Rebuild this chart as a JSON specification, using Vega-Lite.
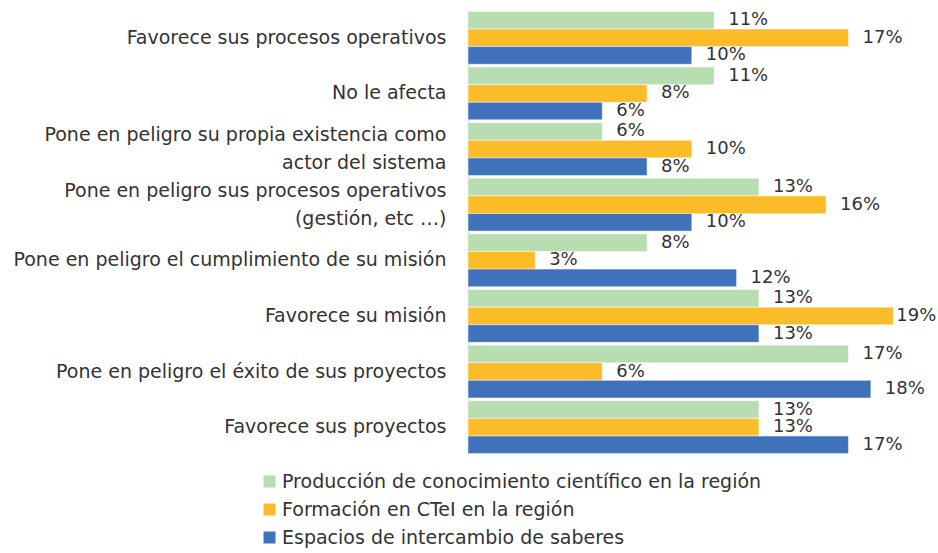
{
  "$schema": "https://vega.github.io/schema/vega-lite/v6.json",
  "autosize": "none",
  "width": 470,
  "height": 445,
  "padding": {"left": 468, "top": 10, "right": 0, "bottom": 98},
  "background": "white",
  "config": {"view": {"stroke": null}, "font": "DejaVu Sans"},
  "data": {"values": [
    {"cat": "Favorece sus procesos operativos", "series": "Producción de conocimiento científico en la región", "value": 0.11},
    {"cat": "Favorece sus procesos operativos", "series": "Formación en CTeI en la región", "value": 0.17},
    {"cat": "Favorece sus procesos operativos", "series": "Espacios de intercambio de saberes", "value": 0.10},
    {"cat": "No le afecta", "series": "Producción de conocimiento científico en la región", "value": 0.11},
    {"cat": "No le afecta", "series": "Formación en CTeI en la región", "value": 0.08},
    {"cat": "No le afecta", "series": "Espacios de intercambio de saberes", "value": 0.06},
    {"cat": "Pone en peligro su propia existencia como|actor del sistema", "series": "Producción de conocimiento científico en la región", "value": 0.06},
    {"cat": "Pone en peligro su propia existencia como|actor del sistema", "series": "Formación en CTeI en la región", "value": 0.10},
    {"cat": "Pone en peligro su propia existencia como|actor del sistema", "series": "Espacios de intercambio de saberes", "value": 0.08},
    {"cat": "Pone en peligro sus procesos operativos|(gestión, etc …)", "series": "Producción de conocimiento científico en la región", "value": 0.13},
    {"cat": "Pone en peligro sus procesos operativos|(gestión, etc …)", "series": "Formación en CTeI en la región", "value": 0.16},
    {"cat": "Pone en peligro sus procesos operativos|(gestión, etc …)", "series": "Espacios de intercambio de saberes", "value": 0.10},
    {"cat": "Pone en peligro el cumplimiento de su misión", "series": "Producción de conocimiento científico en la región", "value": 0.08},
    {"cat": "Pone en peligro el cumplimiento de su misión", "series": "Formación en CTeI en la región", "value": 0.03},
    {"cat": "Pone en peligro el cumplimiento de su misión", "series": "Espacios de intercambio de saberes", "value": 0.12},
    {"cat": "Favorece su misión", "series": "Producción de conocimiento científico en la región", "value": 0.13},
    {"cat": "Favorece su misión", "series": "Formación en CTeI en la región", "value": 0.19},
    {"cat": "Favorece su misión", "series": "Espacios de intercambio de saberes", "value": 0.13},
    {"cat": "Pone en peligro el éxito de sus proyectos", "series": "Producción de conocimiento científico en la región", "value": 0.17},
    {"cat": "Pone en peligro el éxito de sus proyectos", "series": "Formación en CTeI en la región", "value": 0.06},
    {"cat": "Pone en peligro el éxito de sus proyectos", "series": "Espacios de intercambio de saberes", "value": 0.18},
    {"cat": "Favorece sus proyectos", "series": "Producción de conocimiento científico en la región", "value": 0.13},
    {"cat": "Favorece sus proyectos", "series": "Formación en CTeI en la región", "value": 0.13},
    {"cat": "Favorece sus proyectos", "series": "Espacios de intercambio de saberes", "value": 0.17}
  ]},
  "encoding": {
    "y": {
      "field": "cat", "type": "nominal", "sort": null,
      "scale": {"paddingInner": 0.05, "paddingOuter": 0.025},
      "axis": {
        "title": null, "ticks": false, "grid": false,
        "domainColor": "#D9D9D9", "domainWidth": 1.5,
        "labelExpr": "split(datum.label, '|')",
        "labelFontSize": 19, "labelColor": "#333333", "labelPadding": 22,
        "labelLineHeight": 28, "labelLimit": 470, "labelFont": "DejaVu Sans",
        "labelOffset": {"condition": {"test": "indexof(datum.value, '|') >= 0", "value": -14}, "value": 0}
      }
    },
    "yOffset": {
      "field": "series", "type": "nominal",
      "sort": ["Producción de conocimiento científico en la región", "Formación en CTeI en la región", "Espacios de intercambio de saberes"],
      "scale": {"paddingInner": 0, "paddingOuter": 0}
    },
    "x": {
      "field": "value", "type": "quantitative",
      "scale": {"domain": [0, 0.21], "nice": false},
      "axis": null
    }
  },
  "layer": [
    {
      "mark": {"type": "bar", "stroke": "white", "strokeWidth": 0.5},
      "encoding": {
        "color": {
          "field": "series", "type": "nominal",
          "scale": {
            "domain": ["Producción de conocimiento científico en la región", "Formación en CTeI en la región", "Espacios de intercambio de saberes"],
            "range": ["#B7DDB0", "#FBBC28", "#4072BB"]
          },
          "legend": {
            "title": null, "orient": "none", "legendX": -208, "legendY": 462,
            "direction": "vertical", "symbolType": "square", "symbolSize": 144,
            "symbolStrokeWidth": 0, "labelFontSize": 19, "labelColor": "#333333",
            "labelFont": "DejaVu Sans", "rowPadding": 8, "labelOffset": 3, "labelLimit": 700
          }
        }
      }
    },
    {
      "mark": {"type": "text", "align": "left", "baseline": "middle", "dx": {"expr": "datum.value > 0.185 ? 3 : 14"}, "fontSize": 18, "color": "#333333", "font": "DejaVu Sans"},
      "encoding": {
        "text": {"field": "value", "type": "quantitative", "format": ".0%"}
      }
    }
  ]
}
